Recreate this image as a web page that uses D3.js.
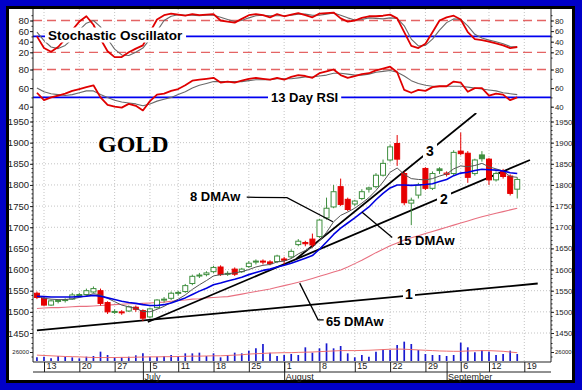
<!DOCTYPE html>
<!-- Gold daily chart: stochastic, RSI, candles with weighted MAs, volume -->
<meta charset="utf-8">
<style>
 body { margin: 0; background: #fff; }
 text { font-family: Arial, "Liberation Sans", sans-serif; }
 .axis text { font-size: 9.5px; fill: #222; }
 .axis.r text { font-size: 7.8px; }
 .axis path { display: none; }
 .axis line { stroke: #222; }
 .xax text { font-size: 9px; }
 .grid { stroke: #c4c4c4; stroke-dasharray: 1,2; }
 .lbl { font-weight: bold; fill: #000; }
</style>

<svg id="chart" width="582" height="390"></svg>

<script src="https://cdn.jsdelivr.net/npm/d3@7"></script>

<script>

 // trading days 10 Jun .. 16 Sep
 var opens  = [1544,1532,1516,1525,1527,1530,1540,1541,1547,1550,
               1522,1500,1499,1502,1511,1503,1488,1510,1529,1532,
               1544,1548,1567,1585,1588,1595,1606,1590,1601,1595,
               1607,1618,1620,1618,1619,1625,1630,1659,1664,1672,
               1678,1722,1748,1796,1766,1755,1768,1790,1796,1823,
               1859,1898,1827,1757,1776,1839,1792,1838,1825,1827,
               1880,1875,1827,1871,1861,1812,1832,1821,1790];
 var highs  = [1548,1535,1529,1530,1532,1545,1545,1555,1560,1555,
               1525,1506,1504,1515,1515,1506,1510,1530,1535,1548,
               1550,1566,1588,1592,1596,1609,1610,1596,1605,1604,
               1620,1624,1624,1622,1635,1630,1648,1672,1668,1685,
               1720,1770,1800,1815,1770,1765,1790,1796,1828,1860,
               1895,1918,1832,1770,1805,1842,1832,1842,1832,1882,
               1924,1880,1862,1880,1864,1832,1838,1825,1818];
 var lows   = [1530,1514,1514,1520,1522,1528,1535,1538,1545,1515,
               1495,1495,1493,1500,1500,1478,1485,1508,1522,1528,
               1538,1545,1563,1580,1584,1592,1585,1585,1585,1592,
               1604,1612,1612,1610,1615,1612,1626,1655,1655,1652,
               1675,1718,1745,1750,1738,1750,1764,1782,1792,1820,
               1855,1845,1752,1705,1768,1788,1788,1826,1820,1822,
               1870,1805,1822,1855,1800,1808,1815,1775,1768];
 var closes = [1534,1516,1526,1527,1529,1540,1541,1550,1555,1520,
               1500,1501,1500,1512,1506,1485,1507,1528,1530,1544,
               1546,1562,1584,1587,1592,1605,1588,1591,1589,1601,
               1615,1620,1618,1614,1632,1622,1643,1667,1661,1658,
               1717,1745,1784,1754,1742,1762,1784,1793,1823,1851,
               1890,1861,1758,1764,1800,1792,1827,1834,1828,1877,
               1874,1818,1859,1862,1812,1827,1820,1780,1813];

 var ma8  = [1537,1532,1530,1529,1529,1531,1534,1538,1543,1540,
             1532,1524,1516,1512,1508,1501,1500,1506,1513,1522,
             1530,1540,1553,1564,1574,1585,1588,1590,1592,1595,
             1600,1606,1610,1612,1618,1620,1626,1637,1645,1652,
             1668,1688,1713,1728,1736,1745,1757,1770,1787,1807,
             1830,1840,1825,1815,1813,1812,1815,1821,1826,1838,
             1845,1843,1846,1851,1843,1838,1833,1820,1818];
 var ma15 = [1537,1536,1535,1535,1535,1535,1536,1537,1539,1537,
             1533,1529,1525,1522,1520,1517,1515,1515,1517,1521,
             1527,1533,1541,1549,1556,1564,1568,1573,1577,1582,
             1588,1593,1598,1601,1606,1610,1615,1621,1627,1633,
             1648,1665,1683,1698,1710,1722,1735,1748,1765,1780,
             1793,1800,1800,1799,1800,1801,1803,1808,1813,1822,
             1828,1830,1834,1837,1836,1835,1833,1829,1827];
 var ma65 = [1508,1509,1510,1510,1511,1512,1513,1513,1514,1515,
             1516,1517,1518,1519,1519,1520,1521,1522,1523,1525,
             1527,1528,1530,1531,1533,1534,1535,1536,1539,1542,
             1545,1548,1551,1554,1558,1562,1566,1570,1574,1579,
             1584,1589,1594,1599,1606,1614,1622,1631,1640,1648,
             1656,1663,1670,1675,1680,1685,1690,1695,1700,1705,
             1710,1715,1720,1725,1729,1733,1737,1741,1745];

 // volume, thousands of contracts
 var volumes = [10.6,12.5,7.7,14.4,12.5,10.6,7.7,12.5,14.4,27,
                17.3,10.6,10.6,12.5,16.4,22.1,12.5,12.5,14.4,17.3,
                14.4,22.1,22.1,24.1,14.4,22.1,10.6,17.3,24.1,22.1,
                29.9,36.6,49.1,24.1,14.4,17.3,20.2,17.3,39.5,24.1,
                36.6,51,36.6,43.3,22.1,10.6,17.3,12.5,27,33.7,
                31.8,46.2,55.9,49.1,31.8,20.2,17.3,17.3,14.4,17.3,
                53,39.5,25,31.8,27,17.3,20.2,29.9,20.2];
 var volAvg  = [17,16,15,14,13,12.5,12,11,10,10,
                10,10,10.5,10.5,11,11.5,12,12,12.5,12.5,
                13,13.5,14,14,14.5,15,15,16,17,18,
                20,21,22,23,23.5,24,24,25,25.5,26,
                27,28,29,30,30,30,30.5,31,32,33,
                34,34.5,34,33,32,31,30,29,28.5,28,
                28,29,29.5,30,30,29,28,26,24];

 var stochK = [50,28,21,30,45,62,78,88,72,45,
               22,11,11,20,27,33,58,82,90,93,
               91,89,92,90,91,92,80,78,76,83,
               90,92,90,86,92,88,91,94,90,86,
               93,94,95,84,78,80,85,88,88,89,
               91,84,58,32,28,36,58,80,86,89,
               82,58,45,43,40,37,33,28,30];
 var stochD = [58,42,30,27,33,45,62,75,80,68,
               45,26,15,14,20,28,45,60,80,88,
               91,90,90,89,90,90,86,82,78,80,
               85,89,90,89,89,89,90,92,92,90,
               90,92,94,90,85,81,82,85,84,83,
               85,84,70,45,32,33,45,62,76,83,
               82,70,54,47,43,40,36,31,30];

 var rsi    = [55,47,50,52,54,57,59,61,63,50,
               42,40,39,43,41,36,46,53,54,57,
               59,63,68,69,70,71,66,67,66,68,
               70,71,70,69,71,69,72,74,73,71,
               76,78,80,74,71,73,75,76,79,81,
               83,77,58,55,58,57,61,62,62,67,
               66,56,60,60,52,54,53,47,50];
 var rsiAvg = [60,56,54,53,52,53,55,57,57,53,
               50,47,45,44,43,41,43,46,48,50,
               53,56,60,63,65,67,67,67,67,67,
               68,69,69,69,70,70,70,71,72,72,
               73,74,76,76,75,74,74,75,77,78,
               79,77,73,68,65,63,62,62,62,62,
               62,61,60,59,58,57,55,54,53];

 var weekTicks  = [1,6,11,16,20,25,30,35,40,45,50,55,60,64,69];
 var weekLabels = ["13","20","27","5","11","18","25","1","8","15","22","29","6","12","19"];
 var monthTicks  = [15,35,58];
 var monthLabels = ["July","August","September"];

 var priceTicks = [1450,1500,1550,1600,1650,1700,1750,1800,1850,1900,1950];
 var oscTicks   = [20,40,60,80];
 var rsiTicks   = [40,60,80];

 // panel frame
 var left = 33, right = 551;
 var stochTop = 9, rsiTop = 62, priceTop = 113, volTop = 341, axisY = 362;

 var svg = d3.select("#chart");

 svg.append("rect").attr("width", 582).attr("height", 390).attr("fill", "#0000c8");
 svg.append("rect").attr("x", 6).attr("y", 6).attr("width", 569).attr("height", 377).attr("fill", "#000");
 svg.append("rect").attr("x", 9).attr("y", 9).attr("width", 563).attr("height", 371).attr("fill", "#fff");

 var x = d3.scaleLinear().domain([1, 69]).range([44, 524.3]);
 var yStoch = d3.scaleLinear().domain([20, 80]).range([52.3, 20.5]);
 var yRsi = d3.scaleLinear().domain([40, 80]).range([106.7, 69.5]);
 var yPrice = d3.scaleLinear().domain([1450, 1950]).range([333, 121.5]);
 var yVol = d3.scaleLinear().domain([0, 26]).range([361, 352]);

 var idx = d3.range(closes.length);

 clip("cStoch", stochTop, rsiTop);
 clip("cRsi", rsiTop, priceTop);
 clip("cPrice", priceTop, volTop);

 // grid
 svg.append("g").selectAll("line").data(weekTicks).enter().append("line")
    .attr("class", "grid")
    .attr("x1", function(d) { return x(d); }).attr("x2", function(d) { return x(d); })
    .attr("y1", stochTop).attr("y2", axisY);
 svg.append("g").selectAll("line").data(priceTicks).enter().append("line")
    .attr("class", "grid")
    .attr("x1", left).attr("x2", right)
    .attr("y1", function(d) { return yPrice(d); }).attr("y2", function(d) { return yPrice(d); });

 // reference levels
 refLine(yStoch(80), "#e46464", "9,5", 1.3);
 refLine(yStoch(20), "#e46464", "9,5", 1.3);
 refLine(yRsi(80), "#e46464", "9,5", 1.3);
 refLine(yStoch(50), "#0000f0", null, 1.6);
 refLine(yRsi(50), "#0000f0", null, 1.6);

 // oscillators
 var gs = svg.append("g").attr("clip-path", "url(#cStoch)");
 series(gs, stochD, yStoch, "#6a6a6a", 1.1);
 series(gs, stochK, yStoch, "#e00000", 1.8);
 var gr = svg.append("g").attr("clip-path", "url(#cRsi)");
 series(gr, rsiAvg, yRsi, "#6a6a6a", 1.1);
 series(gr, rsi, yRsi, "#e00000", 1.8);

 // price
 var gp = svg.append("g").attr("clip-path", "url(#cPrice)");
 series(gp, ma65, yPrice, "#e87080", 1.1);

 // trend lines, in (day index, price)
 var trend = [
     [[0, 1456], [70.9, 1567]],
     [[15.7, 1476], [69.8, 1859]],
     [[36.7, 1625], [62.2, 1970]]
 ];
 gp.selectAll(".trend").data(trend).enter().append("path")
   .attr("fill", "none").attr("stroke", "#000").attr("stroke-width", 1.8)
   .attr("d", d3.line().x(function(d) { return x(d[0]); }).y(function(d) { return yPrice(d[1]); }));

 var candle = gp.selectAll(".candle").data(idx).enter().append("g")
                .attr("transform", function(i) { return "translate(" + x(i) + ",0)"; });
 candle.append("line")
       .attr("y1", function(i) { return yPrice(highs[i]); })
       .attr("y2", function(i) { return yPrice(lows[i]); })
       .attr("stroke", function(i) { return candleColor(i); })
       .attr("stroke-width", 1);
 candle.append("rect")
       .attr("x", -2.5).attr("width", 5)
       .attr("y", function(i) { return yPrice(Math.max(opens[i], closes[i])); })
       .attr("height", function(i) { return Math.max(1, Math.abs(yPrice(opens[i]) - yPrice(closes[i]))); })
       .attr("stroke", function(i) { return candleColor(i); })
       .attr("fill", function(i) { return closes[i] > opens[i] ? "#fff" : candleColor(i); });

 series(gp, ma8, yPrice, "#555", 1);
 series(gp, ma15, yPrice, "#0000e0", 1.6);

 // volume
 svg.append("g").selectAll("line").data(idx).enter().append("line")
    .attr("x1", function(i) { return x(i); }).attr("x2", function(i) { return x(i); })
    .attr("y1", yVol(0)).attr("y2", function(i) { return yVol(volumes[i]); })
    .attr("stroke", "#1818d0").attr("stroke-width", 1.7);
 series(svg, volAvg, yVol, "#f07070", 1);

 // frame lines
 [[left, stochTop, left, axisY], [right, stochTop, right, axisY],
  [left, axisY, right, axisY], [left, axisY + 10, right, axisY + 10]].forEach(function(l) {
     svg.append("line").attr("x1", l[0]).attr("y1", l[1]).attr("x2", l[2]).attr("y2", l[3])
        .attr("stroke", "#222").attr("stroke-width", 1);
 });

 // y axes, both sides
 yAxes(yPrice, priceTicks, d3.range(1440, 1971, 10));
 yAxes(yStoch, oscTicks, d3.range(0, 101, 10).filter(function(v) { return yStoch(v) > stochTop + 1 && yStoch(v) < rsiTop; }));
 yAxes(yRsi, rsiTicks, d3.range(30, 91, 10).filter(function(v) { return yRsi(v) > rsiTop && yRsi(v) < priceTop; }));
 yAxes(yVol, [26], [13, 26, 39, 52]);
 svg.selectAll(".vol text").text("26000").style("font-size", "6px");

 // x axis: days then months
 var xa = svg.append("g").attr("class", "axis xax").attr("transform", "translate(0," + axisY + ")")
             .call(d3.axisBottom(x).tickValues(weekTicks).tickSize(10)
                   .tickFormat(function(d, i) { return weekLabels[i]; }));
 xa.selectAll("text").attr("text-anchor", "start").attr("x", 2).attr("y", 0.3);
 var ma = svg.append("g").attr("class", "axis xax").attr("transform", "translate(0," + axisY + ")")
             .call(d3.axisBottom(x).tickValues(monthTicks).tickSize(18)
                   .tickFormat(function(d, i) { return monthLabels[i]; }));
 ma.selectAll("text").attr("text-anchor", "start").attr("x", 1).attr("y", 11.3);

 // labels
 boxed(svg.append("text").attr("class", "lbl").attr("x", 48).attr("y", 39.5)
          .style("font-size", "13.5px").text("Stochastic Oscillator"), 3);
 boxed(svg.append("text").attr("class", "lbl").attr("x", 271).attr("y", 101.5)
          .style("font-size", "13px").text("13 Day RSI"), 3);
 svg.append("text").attr("x", 98).attr("y", 152).attr("font-weight", "bold")
    .style("font-family", "'Liberation Serif','Times New Roman',serif").style("font-size", "24px").text("GOLD");

 var pointers = [
     [[29.7, 1771], [35.4, 1770], [41.9, 1713]],
     [[46.0, 1736], [50.3, 1676]],
     [[37.2, 1568], [39.8, 1481], [40.6, 1481]]
 ];
 svg.selectAll(".ptr").data(pointers).enter().append("path")
    .attr("fill", "none").attr("stroke", "#000").attr("stroke-width", 1.3)
    .attr("d", d3.line().x(function(d) { return x(d[0]); }).y(function(d) { return yPrice(d[1]); }));

 svg.append("text").attr("class", "lbl").attr("x", 190).attr("y", 201).style("font-size", "13px").text("8 DMAw");
 svg.append("text").attr("class", "lbl").attr("x", 397).attr("y", 245).style("font-size", "13px").text("15 DMAw");
 svg.append("text").attr("class", "lbl").attr("x", 326).attr("y", 326).style("font-size", "13px").text("65 DMAw");
 boxed(svg.append("text").attr("class", "lbl").attr("x", 405).attr("y", 299).style("font-size", "14px").text("1"), 2);
 boxed(svg.append("text").attr("class", "lbl").attr("x", 440).attr("y", 203.5).style("font-size", "14px").text("2"), 3);
 boxed(svg.append("text").attr("class", "lbl").attr("x", 426).attr("y", 155.5).style("font-size", "14px").text("3"), 3);


 function candleColor(i)
 {
     var prev = i == 0 ? opens[0] : closes[i - 1];
     return closes[i] >= prev ? "#3f8f3f" : "#e60000";
 }

 function series(g, values, y, color, w)
 {
     g.append("path").datum(values)
      .attr("fill", "none").attr("stroke", color).attr("stroke-width", w)
      .attr("stroke-linejoin", "round")
      .attr("d", d3.line().x(function(d, i) { return x(i); }).y(function(d) { return y(d); }));
 }

 function refLine(yy, color, dash, w)
 {
     svg.append("line").attr("x1", left).attr("x2", right).attr("y1", yy).attr("y2", yy)
        .attr("stroke", color).attr("stroke-width", w).attr("stroke-dasharray", dash);
 }

 function clip(id, top, bottom)
 {
     svg.append("clipPath").attr("id", id).append("rect")
        .attr("x", left).attr("y", top).attr("width", right - left).attr("height", bottom - top);
 }

 function yAxes(scale, major, minor)
 {
     var cls = scale === yVol ? "axis vol" : "axis";
     svg.append("g").attr("class", cls).attr("transform", "translate(" + left + ",0)")
        .call(d3.axisLeft(scale).tickValues(major).tickSize(3).tickPadding(1).tickFormat(d3.format("d")));
     svg.append("g").attr("class", "axis").attr("transform", "translate(" + left + ",0)")
        .call(d3.axisLeft(scale).tickValues(minor).tickSize(1.5).tickFormat(""));
     svg.append("g").attr("class", cls + " r").attr("transform", "translate(" + right + ",0)")
        .call(d3.axisRight(scale).tickValues(major).tickSize(3).tickPadding(1).tickFormat(d3.format("d")));
     svg.append("g").attr("class", "axis").attr("transform", "translate(" + right + ",0)")
        .call(d3.axisRight(scale).tickValues(minor).tickSize(1.5).tickFormat(""));
 }

 function boxed(t, pad)
 {
     var b = t.node().getBBox();
     svg.insert("rect", function() { return t.node(); })
        .attr("x", b.x - pad).attr("y", b.y).attr("width", b.width + 2 * pad).attr("height", b.height)
        .attr("fill", "#fff");
 }

</script>
